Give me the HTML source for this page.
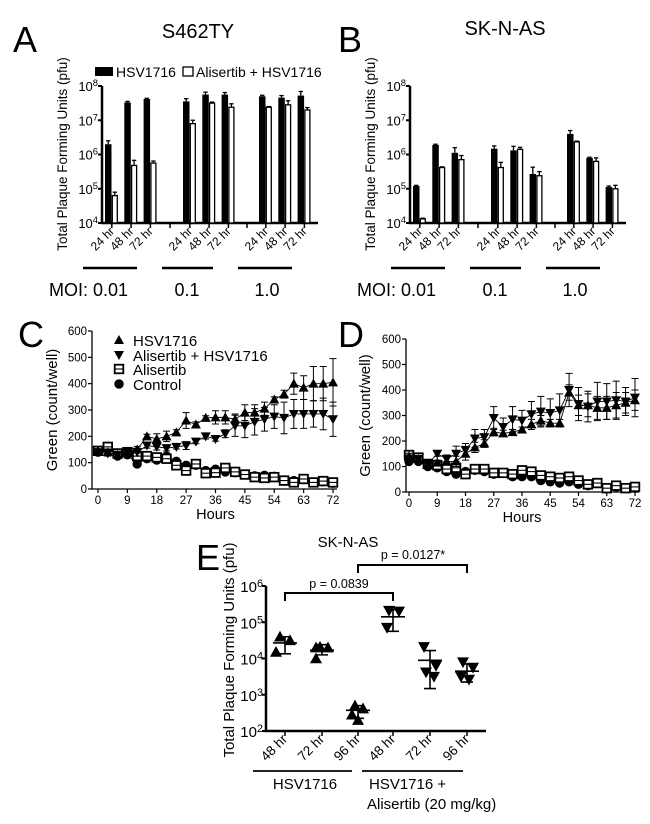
<!DOCTYPE html>
<html><head><meta charset="utf-8"><style>
html,body{margin:0;padding:0;background:#fff;}
svg{display:block;font-family:"Liberation Sans",Arial,sans-serif;}
</style></head><body>
<svg id="fig" width="650" height="824" viewBox="0 0 650 824" xmlns="http://www.w3.org/2000/svg">
<g font-size="36" fill="#000">
<text x="13" y="52">A</text>
<text x="338" y="52">B</text>
<text x="18" y="347">C</text>
<text x="338" y="347">D</text>
<text x="196" y="570">E</text>
</g>
<text x="198" y="38" font-size="20" text-anchor="middle">S462TY</text>
<text x="505" y="35" font-size="20" text-anchor="middle">SK-N-AS</text>
<text x="348" y="547" font-size="15" text-anchor="middle">SK-N-AS</text>
<g font-size="14">
<rect x="95" y="67" width="18" height="9" fill="#000"/>
<text x="116" y="77">HSV1716</text>
<rect x="183" y="67" width="10" height="9" fill="#fff" stroke="#000" stroke-width="1.3"/>
<text x="196" y="77">Alisertib + HSV1716</text>
</g>
<g id="root"></g>
</svg>
<script>
// Panel A/B data (log10 pfu)
var abTimes = ["24 hr","48 hr","72 hr"];
var abMoi = ["MOI: 0.01","0.1","1.0"];
var aBlack = [6.3,7.52,7.62, 7.55,7.75,7.75, 7.7,7.66,7.72];
var aWhite = [4.8,5.68,5.75, 6.9,7.5,7.38, 7.38,7.45,7.3];
var aBlackErr = [0.1,0.03,0.02, 0.08,0.07,0.06, 0.03,0.06,0.12];
var aWhiteErr = [0.1,0.15,0.06, 0.1,0.03,0.1, 0.02,0.12,0.07];
var bBlack = [5.08,6.28,6.05, 6.17,6.12,5.43, 6.6,5.9,5.05];
var bWhite = [4.12,5.62,5.85, 5.62,6.15,5.38, 6.37,5.8,5.0];
var bBlackErr = [0.02,0.02,0.15, 0.08,0.12,0.2, 0.1,0.02,0.03];
var bWhiteErr = [0.02,0.02,0.12, 0.15,0.06,0.12, 0.02,0.1,0.1];
var abYTicks = [4,5,6,7,8];
// Panel C/D data
var hours = [0,3,6,9,12,15,18,21,24,27,30,33,36,39,42,45,48,51,54,57,60,63,66,69,72];
var cHsv = [145,140,130,140,150,200,190,200,215,260,245,270,272,272,265,290,290,305,340,360,400,385,400,400,405];
var cHsvErr = [15,12,10,12,12,8,20,20,10,30,10,8,25,25,20,30,30,25,10,15,40,45,65,65,90];
var cAli = [140,135,130,140,140,165,160,155,160,165,180,200,190,210,240,240,255,265,275,270,285,285,285,285,265];
var cAliErr = [12,10,10,12,15,10,12,10,8,15,8,10,8,15,40,45,50,45,45,60,55,55,50,60,65];
var cAlis = [145,160,135,140,125,125,120,115,90,70,95,60,62,80,65,55,45,42,45,32,25,38,25,30,25];
var cCtrl = [140,155,125,130,95,115,110,125,105,90,90,70,75,65,62,55,50,52,48,30,32,38,25,28,22];
var dHsv = [140,130,110,115,120,120,150,175,190,235,230,235,245,265,280,270,270,390,340,340,330,330,340,350,360];
var dHsvErr = [12,10,10,10,15,20,25,20,15,15,12,10,10,20,20,15,15,30,40,45,45,45,50,40,40];
var dAli = [130,130,110,150,130,150,165,210,215,290,255,285,280,305,315,310,320,400,345,335,355,355,360,355,370];
var dAliErr = [10,10,12,10,15,30,25,35,30,45,35,50,40,50,60,55,65,65,65,60,75,70,75,55,75];
var dAlis = [145,135,110,105,90,95,70,90,90,75,75,70,85,80,65,60,55,60,45,30,35,15,25,15,20];
var dCtrl = [120,120,100,95,80,70,80,85,80,70,75,60,60,60,45,40,35,40,30,25,35,15,20,15,15];
var cdXTicks = [0,9,18,27,36,45,54,63,72];
var cdYTicks = [0,100,200,300,400,500,600];
// Panel E data (log10 pfu)
var eCats = ["48 hr","72 hr","96 hr","48 hr","72 hr","96 hr"];
var ePoints = [[4.6,4.5,4.18],[4.3,4.32,4.3,4.0],[2.7,2.62,2.45,2.3],[5.32,5.3,4.85],[4.32,3.8,3.62,3.5],[3.9,3.75,3.5,3.42]];
var eMean = [4.43,4.23,2.57,5.15,3.95,3.65];
var eSdLo = [4.13,4.1,2.35,4.75,3.17,3.35];
var eSdHi = [4.6,4.38,2.7,5.35,4.22,3.85];
var eYTicks = [2,3,4,5,6];

var NS="http://www.w3.org/2000/svg";
var root=document.getElementById('root');
function mk(tag,attrs,parent){var e=document.createElementNS(NS,tag);for(var k in attrs)e.setAttribute(k,attrs[k]);(parent||root).appendChild(e);return e;}
function txt(s,attrs,parent){var e=mk('text',attrs,parent);e.textContent=s;return e;}
function sup(base,exp,x,y,fs,parent){var t=mk('text',{x:x,y:y,'font-size':fs,'text-anchor':'end'},parent);
 var a=document.createElementNS(NS,'tspan');a.textContent=base;t.appendChild(a);
 var b=document.createElementNS(NS,'tspan');b.setAttribute('dy',-5);b.setAttribute('font-size',fs*0.72);b.textContent=exp;t.appendChild(b);return t;}

// ---- Bar panels ----
function barPanel(name,off,black,white,bErr,wErr){
 var g=mk('g',{});
 
 
 var y=function(v){return 223-(v-4)*34.25;};
 var ax=102+off;
 var al=mk('path',{d:'M'+ax+' '+y(8)+'V'+y(4)+'H'+(318+off),stroke:'#000','stroke-width':2.5,fill:'none'},g);
 
 
 abYTicks.forEach(function(t){
  var tk=mk('line',{x1:ax-4,x2:ax,y1:y(t),y2:y(t),stroke:'#000','stroke-width':2},g);
  
  
  var l=sup('10',String(t),ax-4,y(t)+5,13,g);
  
  
 });
 var yl=txt('Total Plaque Forming Units (pfu)',{x:0,y:0,'font-size':13.5,'text-anchor':'middle',transform:'translate('+(67+off)+',154) rotate(-90)'},g);
 
 
 var groupStart=[105,183,259];
 for(var i=0;i<9;i++){
  var gi=Math.floor(i/3),ti=i%3;
  var bx=groupStart[gi]+ti*19.3+off;
  var yb=y(black[i]),yw=y(white[i]);
  var eb=mk('line',{x1:bx+3.2,x2:bx+3.2,y1:y(black[i]+bErr[i]),y2:yb,stroke:'#000','stroke-width':1.3},g);
  
  
  var ec=mk('line',{x1:bx+1,x2:bx+5.4,y1:y(black[i]+bErr[i]),y2:y(black[i]+bErr[i]),stroke:'#000','stroke-width':1.3},g);
  
  
  var r=mk('rect',{x:bx,y:yb,width:6.5,height:223-yb,fill:'#000'},g);
  
  
  var ew=mk('line',{x1:bx+9.8,x2:bx+9.8,y1:y(white[i]+wErr[i]),y2:yw,stroke:'#000','stroke-width':1.3},g);
  
  
  var ewc=mk('line',{x1:bx+7.6,x2:bx+12,y1:y(white[i]+wErr[i]),y2:y(white[i]+wErr[i]),stroke:'#000','stroke-width':1.3},g);
  
  
  var w=mk('rect',{x:bx+7.3,y:yw,width:5,height:223-yw,fill:'#fff',stroke:'#000','stroke-width':1.3},g);
  
  
  var tk=mk('line',{x1:bx+6.8,x2:bx+6.8,y1:223,y2:228,stroke:'#000','stroke-width':1.5},g);
  
  
  var tl=txt(abTimes[ti],{x:0,y:0,'font-size':12,'text-anchor':'end',transform:'translate('+(bx+10)+',232) rotate(-45)'},g);
  
  
 }
 [170,247].forEach(function(x){var t=mk('line',{x1:x+off,x2:x+off,y1:223,y2:228,stroke:'#000','stroke-width':1.5},g);
  
  });
 var gl=[[83,137],[162,213],[238,292]];
 var mx=[49,187,267];
 for(var k=0;k<3;k++){
  var ln=mk('line',{x1:gl[k][0]+off,x2:gl[k][1]+off,y1:268,y2:268,stroke:'#000','stroke-width':2.5},g);
  
  
  var mt=txt(abMoi[k],{x:mx[k]+off,y:296,'font-size':18,'text-anchor':k==0?'start':'middle'},g);
  
  
 }
}
barPanel('panel-a',0,aBlack,aWhite,aBlackErr,aWhiteErr);
barPanel('panel-b',308,bBlack,bWhite,bBlackErr,bWhiteErr);

// ---- Line panels ----
function marker(g,type,x,y){
 var e;
 if(type=='up') e=mk('path',{d:'M'+x+' '+(y-5)+'L'+(x+5)+' '+(y+4)+'L'+(x-5)+' '+(y+4)+'Z',fill:'#000'},g);
 else if(type=='down') e=mk('path',{d:'M'+x+' '+(y+5)+'L'+(x+5)+' '+(y-4)+'L'+(x-5)+' '+(y-4)+'Z',fill:'#000'},g);
 else if(type=='sq'){e=mk('rect',{x:x-4.3,y:y-4.3,width:8.6,height:8.6,fill:'#fff',stroke:'#000','stroke-width':1.8},g);
  var m=mk('line',{x1:x-4.3,x2:x+4.3,y1:y,y2:y,stroke:'#000','stroke-width':1.1},g);
  
  }
 else e=mk('circle',{cx:x,cy:y,r:4.7,fill:'#000'},g);
 return e;
}
function linePanel(name,P,series){
 var g=mk('g',{});
 
 
 var X=function(h){return P.x0+(P.x72-P.x0)*h/72;};
 var Y=function(v){return P.y0-(P.y0-P.y600)*v/600;};
 var ax=mk('path',{d:'M'+P.ax+' '+P.y600+'V'+P.y0+'H'+(P.x72+4),stroke:'#000','stroke-width':1.3,fill:'none'},g);
 
 
 cdYTicks.forEach(function(t){
  var tk=mk('line',{x1:P.ax-4,x2:P.ax,y1:Y(t),y2:Y(t),stroke:'#000','stroke-width':1.2},g);
  
  
  var l=txt(String(t),{x:P.ax-5,y:Y(t)+4,'font-size':11.5,'text-anchor':'end'},g);
  
  
 });
 cdXTicks.forEach(function(t){
  var tk=mk('line',{x1:X(t),x2:X(t),y1:P.y0,y2:P.y0+4,stroke:'#000','stroke-width':1.2},g);
  
  
  var l=txt(String(t),{x:X(t),y:P.y0+15,'font-size':11.5,'text-anchor':'middle'},g);
  
  
 });
 var xt=txt('Hours',{x:(P.x0+P.x72)/2,y:P.y0+30,'font-size':14.5,'text-anchor':'middle'},g);
 
 
 var yt=txt('Green (count/well)',{x:0,y:0,'font-size':15,'text-anchor':'middle',transform:'translate('+P.yl+','+((P.y0+P.y600)/2)+') rotate(-90)'},g);
 
 
 series.forEach(function(s){
  var d='';
  hours.forEach(function(h,i){d+=(i?'L':'M')+X(h)+' '+Y(s.v[i]);});
  var p=mk('path',{d:d,stroke:'#000','stroke-width':0.9,fill:'none'},g);
  
  
  hours.forEach(function(h,i){
   if(s.e){
    var e=s.e[i];
    var eb=mk('path',{d:'M'+(X(h)-3.5)+' '+Y(s.v[i]+e)+'H'+(X(h)+3.5)+'M'+X(h)+' '+Y(s.v[i]+e)+'V'+Y(s.v[i]-e)+'M'+(X(h)-3.5)+' '+Y(s.v[i]-e)+'H'+(X(h)+3.5),stroke:'#000','stroke-width':1,fill:'none'},g);
    
    
   }
   var m=marker(g,s.t,X(h),Y(s.v[i]));
   
   
  });
 });
 return g;
}
var gC=linePanel('panel-c',{ax:92,x0:98,x72:333,y0:489,y600:331,yl:57},[
 {n:'control',t:'circle',v:cCtrl},{n:'alisertib',t:'sq',v:cAlis},
 {n:'alisertib-hsv1716',t:'down',v:cAli,e:cAliErr},{n:'hsv1716',t:'up',v:cHsv,e:cHsvErr}]);
linePanel('panel-d',{ax:406,x0:409,x72:635,y0:492,y600:339,yl:370},[
 {n:'control',t:'circle',v:dCtrl},{n:'alisertib',t:'sq',v:dAlis},
 {n:'hsv1716',t:'up',v:dHsv,e:dHsvErr},{n:'alisertib-hsv1716',t:'down',v:dAli,e:dAliErr}]);
var legC=[['up','HSV1716',341],['down','Alisertib + HSV1716',356],['sq','Alisertib',370],['circle','Control',385]];
legC.forEach(function(L){
 var m=marker(gC,L[0],119,L[2]-1);
 
 
 var t=txt(L[1],{x:133,y:L[2]+5,'font-size':15},gC);
 
 
});

// ---- Panel E ----
(function(){
 var g=mk('g',{});
 
 
 var Y=function(v){return 731-(v-2)*36.25;};
 var cx=[285,322,358,393,430,467];
 var jit=[[-5,5,-9],[-6,-2,6,-6],[-3,5,-6,0],[-4,6,-6],[-6,6,-4,4],[-4,6,-6,2]];
 var ax=mk('path',{d:'M266 '+Y(6)+'V'+Y(2)+'H486',stroke:'#000','stroke-width':2.5,fill:'none'},g);
 
 
 eYTicks.forEach(function(t){
  var tk=mk('line',{x1:262,x2:266,y1:Y(t),y2:Y(t),stroke:'#000','stroke-width':2},g);
  
  
  var l=sup('10',String(t),263,Y(t)+6,15,g);
  
  
 });
 var yl=txt('Total Plaque Forming Units (pfu)',{x:0,y:0,'font-size':15,'text-anchor':'middle',transform:'translate(234,650) rotate(-90)'},g);
 
 
 for(var i=0;i<6;i++){
  var x=cx[i];
  var tk=mk('line',{x1:x,x2:x,y1:731,y2:736,stroke:'#000','stroke-width':1.5},g);
  
  
  var tl=txt(eCats[i],{x:0,y:0,'font-size':13.5,'text-anchor':'end',transform:'translate('+(x+3)+',740) rotate(-45)'},g);
  
  
  ePoints[i].forEach(function(v,j){
   var m=marker(g,i<3?'up':'down',x+jit[i][j],Y(v));
   m.setAttribute('transform','translate('+(x+jit[i][j])+','+Y(v)+') scale(1.2) translate('+(-(x+jit[i][j]))+','+(-Y(v))+')');
   
   
  });
  var sd=mk('path',{d:'M'+(x-6)+' '+Y(eSdHi[i])+'H'+(x+6)+'M'+x+' '+Y(eSdHi[i])+'V'+Y(eSdLo[i])+'M'+(x-6)+' '+Y(eSdLo[i])+'H'+(x+6)+'M'+(x-12)+' '+Y(eMean[i])+'H'+(x+12),stroke:'#000','stroke-width':1.6,fill:'none'},g);
  
  
 }
 var b1=mk('path',{d:'M285 601V593H393V601',stroke:'#000','stroke-width':2,fill:'none'},g);
 
 
 var t1=txt('p = 0.0839',{x:339,y:588,'font-size':12.5,'text-anchor':'middle'},g);
 
 
 var b2=mk('path',{d:'M358 573V565H467V573',stroke:'#000','stroke-width':2,fill:'none'},g);
 
 
 var t2=txt('p = 0.0127*',{x:413,y:559,'font-size':12.5,'text-anchor':'middle'},g);
 
 
 var g1=mk('line',{x1:253,x2:352,y1:771,y2:771,stroke:'#000','stroke-width':1.8},g);
 
 
 var g2=mk('line',{x1:362,x2:463,y1:771,y2:771,stroke:'#000','stroke-width':1.8},g);
 
 
 var l1=txt('HSV1716',{x:305,y:789,'font-size':15,'text-anchor':'middle'},g);
 
 
 var l2=txt('HSV1716 +',{x:369,y:789,'font-size':15},g);
 
 
 var l3=txt('Alisertib (20 mg/kg)',{x:367,y:809,'font-size':15},g);
 
 
})();
</script>
</body></html>
